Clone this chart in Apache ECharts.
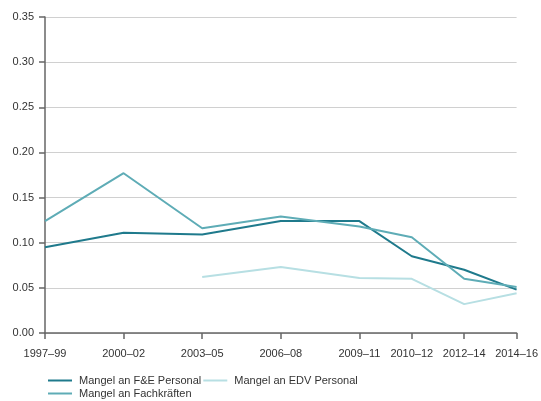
<!DOCTYPE html>
<html>
<head>
<meta charset="utf-8">
<script src="https://cdn.jsdelivr.net/npm/echarts@6/dist/echarts.min.js"></script>
<style>
  html, body { margin: 0; padding: 0; background: #fff; }
  #chart { width: 541px; height: 401px; }
</style>
</head>
<body>
<div id="chart"></div>
<script>
// Zeiträume und ihre Position auf der x-Achse (Abstand wie im Original)
var periods = ['1997–99', '2000–02', '2003–05', '2006–08', '2009–11', '2010–12', '2012–14', '2014–16']
var periodPos = [0, 3, 6, 9, 12, 14, 16, 18]

// Werte der drei Reihen
var feValues = [0.095, 0.111, 0.109, 0.124, 0.124, 0.085, 0.070, 0.048]
var fachValues = [0.124, 0.177, 0.116, 0.129, 0.118, 0.106, 0.060, 0.051]
var edvValues = [null, null, 0.062, 0.073, 0.061, 0.060, 0.032, 0.044]

var yTicks = [0, 0.05, 0.1, 0.15, 0.2, 0.25, 0.3, 0.35]

function pairs(vals) {
  var out = []
  for (var i = 0; i < vals.length; i++) {
    if (vals[i] !== null) out.push([periodPos[i], vals[i]])
  }
  return out
}

var chart = echarts.init(document.getElementById('chart'))

var font = 'Liberation Sans, Arial, sans-serif'

var option = {
  animation: false,
  textStyle: { fontFamily: font },
  grid: { left: 45, right: 23, top: 17, bottom: 68 },
  legend: {
    left: 48,
    top: 375,
    width: 330,
    padding: 0,
    itemWidth: 24,
    itemHeight: 2,
    itemGap: 2,
    icon: 'rect',
    textStyle: { fontSize: 11, color: '#333', fontFamily: font, padding: [0, 0, 0, 2] },
    data: ['Mangel an F&E Personal', 'Mangel an EDV Personal', 'Mangel an Fachkräften']
  },
  xAxis: {
    type: 'value',
    min: 0,
    max: 18,
    axisLine: { lineStyle: { color: '#666', width: 1.5 } },
    axisTick: { customValues: periodPos, length: 6, lineStyle: { color: '#666', width: 1.5 } },
    axisLabel: {
      customValues: periodPos,
      fontSize: 11,
      color: '#333',
      margin: 15,
      formatter: function (v) { return periods[periodPos.indexOf(v)] }
    },
    splitLine: { show: false }
  },
  yAxis: {
    type: 'value',
    min: 0,
    max: 0.35,
    interval: 0.05,
    axisLine: { show: true, lineStyle: { color: '#666', width: 1.5 } },
    axisTick: { show: true, inside: false, length: 6, lineStyle: { color: '#666', width: 1.5 } },
    axisLabel: {
      fontSize: 11,
      color: '#333',
      margin: 11,
      formatter: function (v) { return v.toFixed(2) }
    },
    splitLine: { lineStyle: { color: '#d0d0d0', width: 1.2 } }
  },
  series: [
    {
      name: 'Mangel an F&E Personal',
      type: 'line',
      data: pairs(feValues),
      symbol: 'none',
      color: '#1f7a8c',
      lineStyle: { width: 2 }
    },
    {
      name: 'Mangel an Fachkräften',
      type: 'line',
      data: pairs(fachValues),
      symbol: 'none',
      color: '#5eacb6',
      lineStyle: { width: 2 }
    },
    {
      name: 'Mangel an EDV Personal',
      type: 'line',
      data: pairs(edvValues),
      symbol: 'none',
      color: '#b7dfe3',
      lineStyle: { width: 2 }
    }
  ]
}

chart.setOption(option)
</script>
</body>
</html>
